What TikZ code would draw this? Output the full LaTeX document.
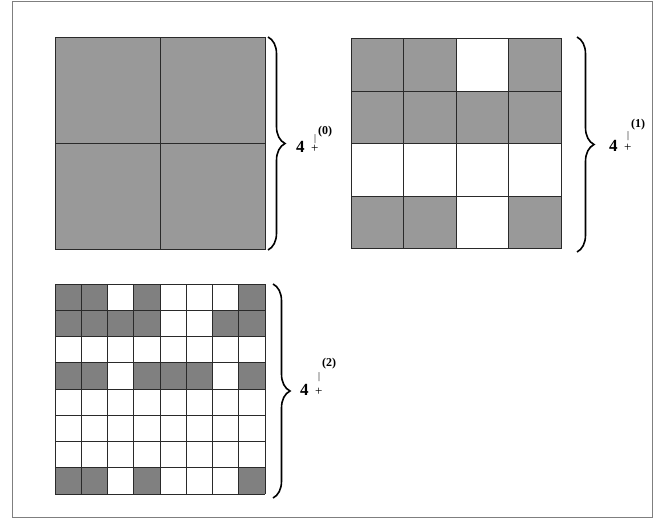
\documentclass[tikz,border=0pt]{standalone}
\usepackage{fontspec}
\setmainfont{Liberation Serif}
\usetikzlibrary{decorations.pathreplacing}
\definecolor{grayA}{HTML}{999999}
\definecolor{grayB}{HTML}{808080}
\definecolor{frameC}{HTML}{7F7F7F}
\definecolor{lineC}{HTML}{2A2A2A}
\tikzset{
  gridline/.style={draw=lineC, line width=0.8pt},
  brc/.style={decorate, decoration={brace, amplitude=17pt}, line width=1.6pt},
  lvl/.style={anchor=base west, inner sep=0pt},
}
\newcommand\lvlmark[3]{{\fontsize{17}{17}\selectfont\bfseries 4}\kern6.5pt\rlap{\raisebox{#3}{\kern3pt\fontsize{10}{10}\selectfont|}}{\fontsize{13}{13}\selectfont+}\kern-0.5pt\raisebox{#2}{\fontsize{12}{12}\selectfont\bfseries(#1)}}
\begin{document}
\begin{tikzpicture}[x=1pt,y=-1pt]
\useasboundingbox (0,0) rectangle (664,519);
\draw[draw=frameC, line width=1.3pt] (12.5,1.5) rectangle (652.5,517.5);

% ---- level 0 : 2x2
\fill[grayA] (55,37.5) rectangle (265,249);
\draw[gridline] (55,37.5) rectangle (265,249);
\draw[gridline] (160,37.5) -- (160,249);
\draw[gridline] (55,143.25) -- (265,143.25);

% ---- level 1 : 4x4
\foreach \c/\r in {0/0,1/0,3/0,0/1,1/1,2/1,3/1,0/3,1/3,3/3}
  \fill[grayA] ({351+52.5*\c},{38.5+52.5*\r}) rectangle ++(52.5,52.5);
\foreach \i in {0,...,4} {
  \draw[gridline] ({351+52.5*\i},38.5) -- ({351+52.5*\i},248.5);
  \draw[gridline] (351,{38.5+52.5*\i}) -- (561,{38.5+52.5*\i});
}

% ---- level 2 : 8x8
\foreach \c/\r in {0/0,1/0,3/0,7/0,0/1,1/1,2/1,3/1,6/1,7/1,0/3,1/3,3/3,4/3,5/3,7/3,0/7,1/7,3/7,7/7}
  \fill[grayB] ({55+26.25*\c},{284+26.25*\r}) rectangle ++(26.25,26.25);
\foreach \i in {0,...,8} {
  \draw[gridline] ({55+26.25*\i},284) -- ({55+26.25*\i},494);
  \draw[gridline] (55,{284+26.25*\i}) -- (265,{284+26.25*\i});
}

% ---- braces
\coordinate (b0t) at (268,37);
\coordinate (b0b) at (268,250);
\coordinate (b1t) at (577,37);
\coordinate (b1b) at (577,252);
\coordinate (b2t) at (273,284);
\coordinate (b2b) at (273,498);
\draw[brc] (b0t) -- (b0b);
\draw[brc] (b1t) -- (b1b);
\draw[brc] (b2t) -- (b2b);

% ---- labels
\node[lvl] (l0) at (296,152) {\lvlmark{0}{18pt}{11pt}};
\node[lvl] (l1) at (609,151) {\lvlmark{1}{24pt}{13pt}};
\node[lvl] (l2) at (300,395) {\lvlmark{2}{29pt}{16pt}};
\end{tikzpicture}
\end{document}
